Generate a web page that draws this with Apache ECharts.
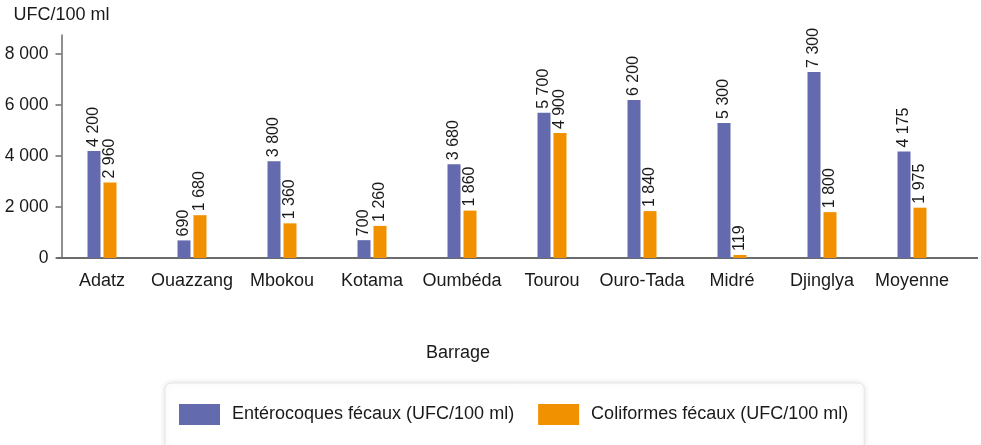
<!DOCTYPE html>
<html>
<head>
<meta charset="UTF-8">
<title>Barrage</title>
<script src="https://cdn.jsdelivr.net/npm/echarts@6/dist/echarts.min.js"></script>
<style>
  html, body { margin: 0; padding: 0; background: #fff; }
  #main { width: 981px; height: 445px; }
</style>
</head>
<body>
<div id="main"></div>
<script type="text/javascript">
  var barrages = ['Adatz', 'Ouazzang', 'Mbokou', 'Kotama', 'Oumbéda', 'Tourou', 'Ouro-Tada', 'Midré', 'Djinglya', 'Moyenne'];
  var enterocoques = [4200, 690, 3800, 700, 3680, 5700, 6200, 5300, 7300, 4175];
  var coliformes = [2960, 1680, 1360, 1260, 1860, 4900, 1840, 119, 1800, 1975];
  var seriesNames = ['Entérocoques fécaux (UFC/100 ml)', 'Coliformes fécaux (UFC/100 ml)'];

  var font = 'Liberation Sans, Arial, Helvetica, sans-serif';

  // espace comme séparateur de milliers
  function fmt(v) {
    return String(v).replace(/\B(?=(\d{3})+(?!\d))/g, ' ');
  }

  var myChart = echarts.init(document.getElementById('main'));

  var barLabel = {
    show: true,
    position: 'top',
    rotate: 90,
    align: 'left',
    verticalAlign: 'middle',
    distance: 4,
    color: '#1a1a1a',
    fontFamily: font,
    fontSize: 16,
    formatter: function (p) { return fmt(p.value); }
  };

  var option = {
    animation: false,
    textStyle: { fontFamily: font },
    grid: { left: 57, right: 24, top: 35, bottom: 187, containLabel: false },
    legend: {
      left: 165,
      top: 383,
      padding: [21, 16, 25, 14],
      itemWidth: 41,
      itemHeight: 21,
      itemGap: 24,
      icon: 'rect',
      backgroundColor: '#fff',
      borderColor: '#e4e4e4',
      borderWidth: 1,
      borderRadius: 6,
      shadowBlur: 6,
      shadowColor: 'rgba(0,0,0,0.12)',
      textStyle: { fontFamily: font, fontSize: 18, color: '#1a1a1a', padding: [0, 0, 0, 7] },
      data: seriesNames
    },
    xAxis: {
      type: 'category',
      data: barrages,
      name: 'Barrage',
      nameLocation: 'middle',
      nameGap: 86,
      nameTextStyle: { fontFamily: font, fontSize: 18, color: '#1a1a1a', padding: [0, 98, 0, 0] },
      axisLine: { lineStyle: { color: '#6b6b6b', width: 2 } },
      axisTick: { show: false },
      axisLabel: { interval: 0, fontFamily: font, fontSize: 18, color: '#1a1a1a', margin: 14 }
    },
    yAxis: {
      type: 'value',
      min: 0,
      max: 8750,
      interval: 2000,
      offset: -4.5,
      name: 'UFC/100 ml',
      nameLocation: 'end',
      nameGap: 11,
      nameTextStyle: { fontFamily: font, fontSize: 18, color: '#1a1a1a' },
      axisLine: { show: true, lineStyle: { color: '#6b6b6b', width: 1.5 } },
      axisTick: { show: true, length: 6, lineStyle: { color: '#6b6b6b', width: 1.5 } },
      splitLine: { show: false },
      axisLabel: {
        showMaxLabel: false,
        fontFamily: font, fontSize: 17.5, color: '#1a1a1a', margin: 13,
        formatter: function (v) { return fmt(v); }
      }
    },
    series: [
      {
        name: seriesNames[0],
        type: 'bar',
        data: enterocoques,
        barWidth: 13,
        barGap: '23%',
        itemStyle: { color: '#636aae' },
        label: barLabel
      },
      {
        name: seriesNames[1],
        type: 'bar',
        data: coliformes,
        barWidth: 13,
        itemStyle: { color: '#f29100' },
        label: barLabel
      }
    ]
  };

  myChart.setOption(option);

  // l'axe horizontal continue un peu au-delà de la dernière catégorie
  var y0 = Math.round(myChart.convertToPixel({ yAxisIndex: 0 }, 0));
  var xEnd = myChart.getWidth() - 24;
  myChart.setOption({
    graphic: [{
      type: 'line',
      shape: { x1: xEnd - 1, y1: y0, x2: xEnd + 21, y2: y0 },
      style: { stroke: '#6b6b6b', lineWidth: 2 },
      silent: true
    }]
  });
</script>
</body>
</html>
